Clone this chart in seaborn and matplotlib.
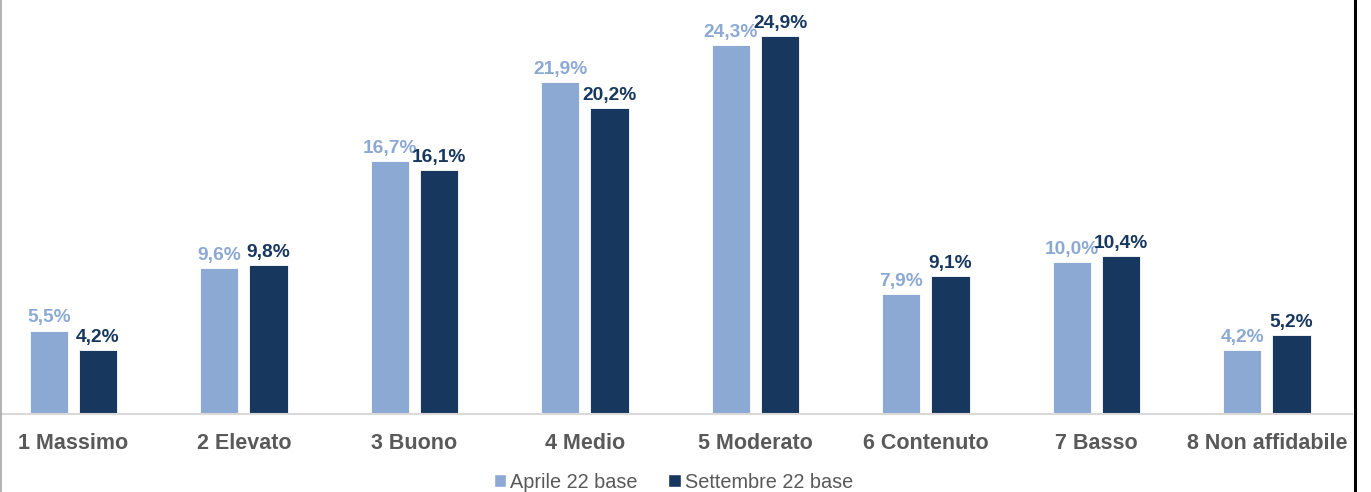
import matplotlib.pyplot as plt
import pandas as pd
import seaborn as sns
from matplotlib.lines import Line2D
from matplotlib.patches import Patch

# dati
categorie = ["1 Massimo", "2 Elevato", "3 Buono", "4 Medio",
             "5 Moderato", "6 Contenuto", "7 Basso", "8 Non affidabile"]
aprile = [5.5, 9.6, 16.7, 21.9, 24.3, 7.9, 10.0, 4.2]
settembre = [4.2, 9.8, 16.1, 20.2, 24.9, 9.1, 10.4, 5.2]
serie = ["Aprile 22 base", "Settembre 22 base"]

CHIARO = "#8CA9D3"
SCURO = "#17375E"
GRIGIO = "#595959"


def main() -> None:
    df = pd.DataFrame({
        "categoria": categorie * 2,
        "valore": aprile + settembre,
        "serie": [serie[0]] * len(categorie) + [serie[1]] * len(categorie),
    })

    sns.set_style("white")
    plt.rcParams["font.family"] = ["Liberation Sans", "DejaVu Sans"]

    fig = plt.figure(figsize=(13.71, 4.92), dpi=100)
    ax = fig.add_axes([-0.0086, 0.1585, 0.9949, 0.8415])

    sns.barplot(data=df, x="categoria", y="valore", hue="serie",
                palette=[CHIARO, SCURO], saturation=1, width=0.576, gap=0.225,
                edgecolor="white", linewidth=0.6, ax=ax, legend=False)

    for cont, col in zip(ax.containers, [CHIARO, SCURO]):
        etichette = [f"{b.get_height():.1f}%".replace(".", ",") for b in cont]
        ax.bar_label(cont, labels=etichette, padding=3, color=col,
                     fontsize=13.8, fontweight="bold")

    ax.set_xlim(-0.5, 7.5)
    ax.set_ylim(0, 27.3)
    ax.set_xlabel("")
    ax.set_ylabel("")
    ax.set_yticks([])
    for s in ["top", "left", "right"]:
        ax.spines[s].set_visible(False)
    ax.spines["bottom"].set_color("#D9D9D9")
    ax.spines["bottom"].set_linewidth(1.5)
    ax.tick_params(axis="x", length=0, pad=14, labelsize=15.5, labelcolor=GRIGIO)
    for t in ax.get_xticklabels():
        t.set_fontweight("bold")

    maniglie = [Patch(facecolor=CHIARO), Patch(facecolor=SCURO)]
    fig.legend(maniglie, serie, loc="center", bbox_to_anchor=(0.491, 0.02),
               ncol=2, frameon=False, fontsize=14.3, labelcolor=GRIGIO,
               handlelength=0.65, handleheight=0.65, handletextpad=0.2,
               columnspacing=1.5)

    # bordi dell'immagine
    fig.add_artist(Line2D([0.0004, 0.0004], [0, 1], color="#A6A6A6",
                          linewidth=1.2, transform=fig.transFigure))
    fig.add_artist(Line2D([0.9885, 0.9885], [0, 1], color="black",
                          linewidth=2.2, transform=fig.transFigure))

    fig.savefig("out.png", dpi=100)
    plt.close(fig)


if __name__ == "__main__":
    main()
